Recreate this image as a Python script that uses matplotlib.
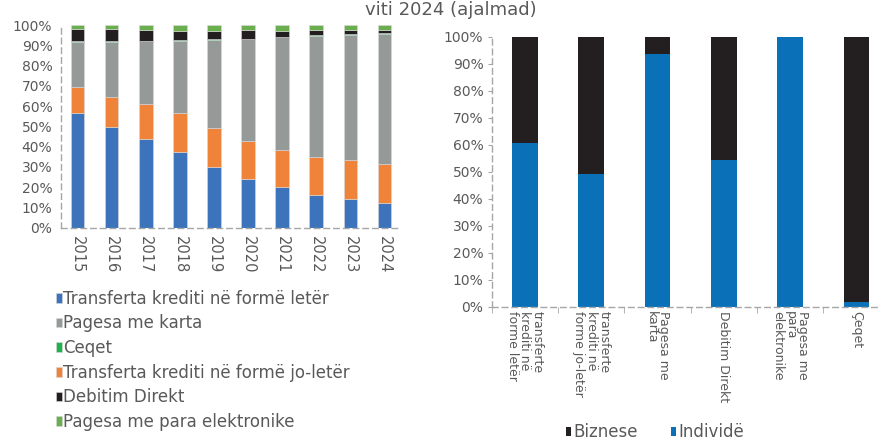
import matplotlib
matplotlib.use("Agg")
import matplotlib.pyplot as plt
import numpy as np

# left chart: structure by instrument, 2015-2024 (%)
years = ["2015", "2016", "2017", "2018", "2019", "2020", "2021", "2022", "2023", "2024"]
letra = [56.4, 49.8, 43.9, 37.5, 29.8, 24.2, 20.2, 16.3, 14.1, 12.0]
jo_letra = [12.8, 14.8, 17.3, 19.2, 19.5, 18.7, 18.3, 18.7, 19.5, 19.6]
karta = [22.6, 27.0, 30.7, 35.6, 43.3, 50.0, 55.4, 59.7, 61.7, 64.1]
ceqet = [0.3, 0.3, 0.3, 0.3, 0.3, 0.3, 0.3, 0.3, 0.3, 0.2]
debitim = [5.8, 6.0, 5.3, 4.6, 4.3, 4.1, 3.0, 2.4, 1.8, 1.5]
elektronike = [1.9, 1.9, 2.3, 2.6, 2.6, 2.7, 2.6, 2.5, 2.4, 2.4]

# right chart: individuals vs businesses, 2024 (%)
kategorite = ["transferte\nkrediti në\nforme letër", "transferte\nkrediti në\nforme jo-letër",
              "Pagesa me\nkarta", "Debitim Direkt", "Pagesa me\npara\nelektronike", "Çeqet"]
individe = [60.7, 49.1, 93.6, 54.2, 100.0, 1.7]
biznese = [39.3, 50.9, 6.4, 45.8, 0.0, 98.3]

txt = "#595959"
spine_c = "#A6A6A6"
plt.rcParams["font.family"] = ["DejaVu Sans"]

fig = plt.figure(figsize=(8.8, 4.41), dpi=100)

fig.text(0.5125, 0.998, "viti 2024 (ajalmad)", ha="center", va="top",
         fontsize=13, color=txt)

# ---- left
ax1 = fig.add_axes([0.069, 0.4837, 0.387, 0.4596])
x = np.arange(len(years))
w = 0.39
series = [
    (letra, "#3C73BA", "Transferta krediti në formë letër"),
    (jo_letra, "#F0833A", "Transferta krediti në formë jo-letër"),
    (karta, "#959998", "Pagesa me karta"),
    (ceqet, "#20B14C", "Ceqet"),
    (debitim, "#231F20", "Debitim Direkt"),
    (elektronike, "#6BAE4F", "Pagesa me para elektronike"),
]
bottom = np.zeros(len(years))
handles = {}
for vals, col, lab in series:
    b = ax1.bar(x, vals, w, bottom=bottom, color=col, edgecolor="#D9D9D9",
                linewidth=0.4, label=lab)
    handles[lab] = b
    bottom += np.array(vals)

ax1.set_xlim(-0.5, len(years) - 0.5)
ax1.set_ylim(0, 100)
ax1.set_yticks(range(0, 101, 10))
ax1.set_yticklabels([f"{v}%" for v in range(0, 101, 10)])
ax1.set_xticks(x)
ax1.set_xticklabels(years, rotation=-90)
ax1.tick_params(axis="both", length=0, colors=txt, labelsize=10)
ax1.tick_params(axis="y", pad=6)
ax1.tick_params(axis="x", pad=6, labelsize=10.5)
for s in ["top", "right"]:
    ax1.spines[s].set_visible(False)
for s in ["left", "bottom"]:
    ax1.spines[s].set_color(spine_c)
    ax1.spines[s].set_linestyle((0, (4, 3)))
    ax1.spines[s].set_linewidth(1)

order = ["Transferta krediti në formë letër", "Pagesa me karta", "Ceqet",
         "Transferta krediti në formë jo-letër", "Debitim Direkt", "Pagesa me para elektronike"]
fig.legend([handles[k] for k in order], order, loc="upper left",
           bbox_to_anchor=(0.064, 0.343), frameon=False, fontsize=12,
           labelcolor=txt, handlelength=0.33, handleheight=0.5,
           handletextpad=0.1, labelspacing=0.4, borderpad=0, borderaxespad=0)

# ---- right
ax2 = fig.add_axes([0.5588, 0.3045, 0.4522, 0.6122])
x2 = np.arange(len(kategorite))
bi = ax2.bar(x2, individe, w, color="#0A71B8", label="Individë")
bb = ax2.bar(x2, biznese, w, bottom=individe, color="#231F20", label="Biznese")
ax2.set_xlim(-0.5, len(kategorite) - 0.5)
ax2.set_ylim(0, 100)
ax2.set_yticks(range(0, 101, 10))
ax2.set_yticklabels([f"{v}%" for v in range(0, 101, 10)])
ax2.set_xticks(x2)
ax2.set_xticklabels(kategorite, rotation=-90, fontsize=9, linespacing=0.95,
                    va="top", ha="center", multialignment="left")
ax2.set_xticks(np.arange(-0.5, len(kategorite)), minor=True)
ax2.tick_params(axis="x", which="major", length=0, colors=txt, pad=3)
ax2.tick_params(axis="x", which="minor", length=4, color=spine_c, direction="out")
ax2.tick_params(axis="y", length=3, color=spine_c, colors=txt, labelsize=10, pad=3)
for s in ["top", "right"]:
    ax2.spines[s].set_visible(False)
for s in ["left", "bottom"]:
    ax2.spines[s].set_color(spine_c)
    ax2.spines[s].set_linestyle((0, (4, 3)))
    ax2.spines[s].set_linewidth(1)

fig.legend([bb, bi], ["Biznese", "Individë"], loc="upper left",
           bbox_to_anchor=(0.643, 0.04), frameon=False, fontsize=12,
           labelcolor=txt, ncol=2, handlelength=0.33, handleheight=0.5,
           handletextpad=0.1, columnspacing=2.0, borderpad=0, borderaxespad=0)

fig.savefig("out.png", dpi=100)
